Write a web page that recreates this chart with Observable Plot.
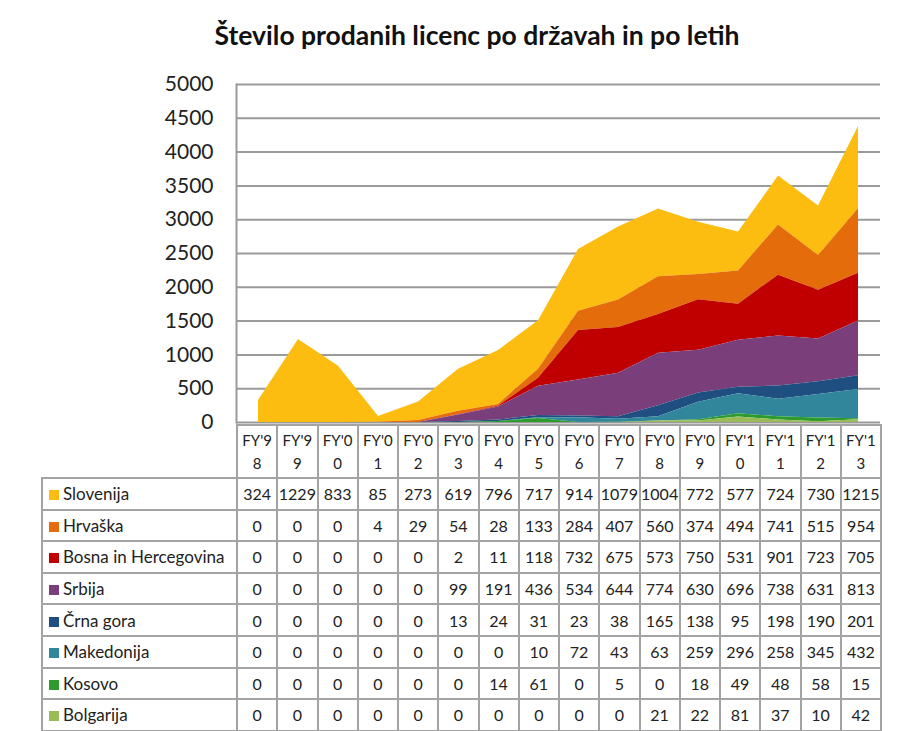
<!DOCTYPE html>
<html>
<head>
<meta charset="utf-8">
<script src="https://cdn.jsdelivr.net/npm/d3@7"></script>
<script src="https://cdn.jsdelivr.net/npm/@observablehq/plot@0.6"></script>
<style>
  html, body { margin: 0; padding: 0; background: #fff; }
  body { width: 900px; height: 731px; position: relative; overflow: hidden; font-family: Lato, "Open Sans", sans-serif; color: #222; }
  #title { position: absolute; left: 0; top: 19px; width: 954px; text-align: center; font-size: 26.5px; font-weight: bold; color: #111; }
  #chart { position: absolute; left: 0; top: 0; }
  #tbl { position: absolute; left: 41px; top: 424px; border-collapse: collapse; table-layout: fixed; font-size: 16px; }
  #tbl td { border: 2px solid #a3a3a3; padding: 0; text-align: center; height: 29.6px; white-space: nowrap; overflow: hidden; }
  #tbl tr.hdr td { height: 51px; font-size: 15px; line-height: 23px; }
  #tbl tr.hdr td.blank { border: none; }
  #tbl td.lab { text-align: left; padding-left: 6px; font-size: 17px; }
  .sw { display: inline-block; width: 10px; height: 10px; margin-right: 4px; vertical-align: 0px; }
</style>
</head>
<body>
<div id="title">Število prodanih licenc po državah in po letih</div>
<div id="chart"></div>
<table id="tbl"></table>
<script>
const years = ["FY'98","FY'99","FY'00","FY'01","FY'02","FY'03","FY'04","FY'05","FY'06","FY'07","FY'08","FY'09","FY'10","FY'11","FY'12","FY'13"];
const countries = ["Slovenija","Hrvaška","Bosna in Hercegovina","Srbija","Črna gora","Makedonija","Kosovo","Bolgarija"];
const colors = ["#FDBD10","#E46C0A","#C00000","#7A3F7A","#1F4E80","#31869B","#2E9B2E","#9BBB59"];
const slovenija  = [324,1229,833,85,273,619,796,717,914,1079,1004,772,577,724,730,1215];
const hrvaska    = [0,0,0,4,29,54,28,133,284,407,560,374,494,741,515,954];
const bosna      = [0,0,0,0,0,2,11,118,732,675,573,750,531,901,723,705];
const srbija     = [0,0,0,0,0,99,191,436,534,644,774,630,696,738,631,813];
const crnaGora   = [0,0,0,0,0,13,24,31,23,38,165,138,95,198,190,201];
const makedonija = [0,0,0,0,0,0,0,10,72,43,63,259,296,258,345,432];
const kosovo     = [0,0,0,0,0,0,14,61,0,5,0,18,49,48,58,15];
const bolgarija  = [0,0,0,0,0,0,0,0,0,0,21,22,81,37,10,42];
const yTicks = [0,500,1000,1500,2000,2500,3000,3500,4000,4500,5000];

const series = [slovenija, hrvaska, bosna, srbija, crnaGora, makedonija, kosovo, bolgarija];
const data = [];
countries.forEach((c, ci) => years.forEach((y, yi) => data.push({country: c, year: y, value: series[ci][yi]})));

const chart = Plot.plot({
  width: 900,
  height: 440,
  marginTop: 84,
  marginBottom: 18,
  marginLeft: 236,
  marginRight: 20,
  style: {fontFamily: "Lato, 'Open Sans', sans-serif", background: "transparent"},
  x: {type: "point", domain: years, padding: 0.5, axis: null},
  y: {domain: [0, 5000], axis: null},
  color: {domain: countries, range: colors},
  marks: [
    Plot.ruleY(yTicks, {stroke: "#9a9a9a", strokeWidth: 2}),
    Plot.areaY(data, {x: "year", y: "value", fill: "country", z: "country", order: countries.slice().reverse(), curve: "linear"}),
    Plot.frame({anchor: "left", stroke: "#9a9a9a", strokeWidth: 2}),
    Plot.axisY({ticks: yTicks, label: null, tickSize: 0, tickPadding: 23, fontSize: 21, fill: "#222", tickFormat: d3.format("d")})
  ]
});
document.getElementById("chart").appendChild(chart);

// data table
const tbl = document.getElementById("tbl");
const cg = document.createElement("colgroup");
const c0 = document.createElement("col"); c0.style.width = "195px"; cg.appendChild(c0);
years.forEach(() => { const c = document.createElement("col"); c.style.width = "40.25px"; cg.appendChild(c); });
tbl.appendChild(cg);
const hr = document.createElement("tr"); hr.className = "hdr";
const blank = document.createElement("td"); blank.className = "blank"; hr.appendChild(blank);
years.forEach(y => { const td = document.createElement("td"); td.innerHTML = y.slice(0,4) + "<br>" + y.slice(4); hr.appendChild(td); });
tbl.appendChild(hr);
countries.forEach((c, ci) => {
  const tr = document.createElement("tr");
  const lab = document.createElement("td"); lab.className = "lab";
  lab.innerHTML = `<span class="sw" style="background:${colors[ci]}"></span>${c}`;
  tr.appendChild(lab);
  series[ci].forEach(v => { const td = document.createElement("td"); td.textContent = v; tr.appendChild(td); });
  tbl.appendChild(tr);
});
</script>
</body>
</html>
